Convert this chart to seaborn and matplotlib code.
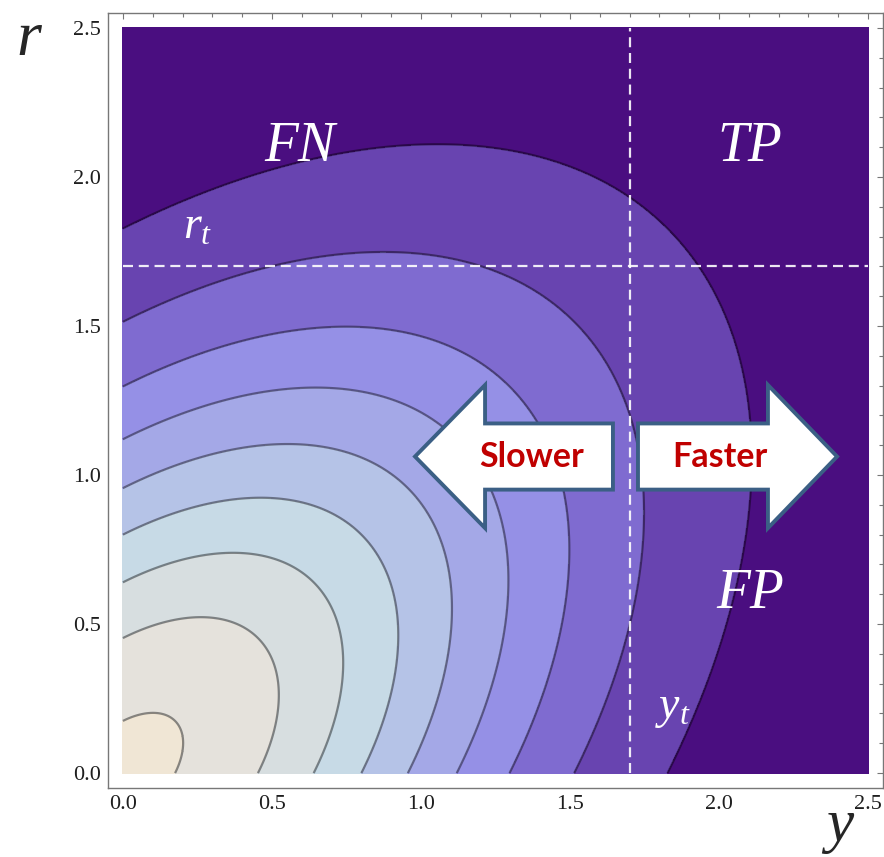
import numpy as np
import matplotlib
matplotlib.use("Agg")
import matplotlib.pyplot as plt
from matplotlib.patches import FancyArrow
from matplotlib.ticker import MultipleLocator, FormatStrFormatter
import seaborn as sns

# Axis intercepts of the nine contour levels (same on both axes), innermost first
contour_intercepts = [0.175, 0.453, 0.640, 0.800, 0.956, 1.120, 1.297, 1.514, 1.827]
# Correlation between y and r that sets the tilt of the contours
rho = 0.5
# Band fill colours, from the peak outwards
band_colors = ["#F0E6D5", "#E5E2DC", "#D7DEE0", "#C7DAE6", "#B5C3E7",
               "#A4A8E7", "#9590E6", "#7F6BD0", "#6844B0", "#4A0E80"]
# Decision thresholds
y_t = 1.7
r_t = 1.7
# Region labels and their anchor points (y, r)
region_labels = ["FN", "TP", "FP"]
region_pos = [(0.594, 2.10), (2.104, 2.10), (2.104, 0.60)]
tick_values = [0.0, 0.5, 1.0, 1.5, 2.0, 2.5]

sns.set_theme(style="white")
plt.rcParams["font.family"] = ["Liberation Serif", "DejaVu Serif"]
plt.rcParams["mathtext.fontset"] = "custom"
plt.rcParams["mathtext.rm"] = "Liberation Serif"
plt.rcParams["mathtext.it"] = "Liberation Serif:italic"

W, H = 884, 857
fig = plt.figure(figsize=(W / 100, H / 100), dpi=100)
ax = fig.add_axes([108 / W, (H - 788) / H, (883 - 108) / W, (788 - 13) / H])

# Quadratic form of a correlated bivariate normal; contours at the squared intercepts
ys = np.linspace(0, 2.5, 601)
rs = np.linspace(0, 2.5, 601)
Y, R = np.meshgrid(ys, rs)
Q = Y ** 2 - 2 * rho * Y * R + R ** 2
levels = [d ** 2 for d in contour_intercepts]
palette = sns.color_palette(band_colors)
ax.contourf(Y, R, Q, levels=[-1.0] + levels + [Q.max() + 1.0], colors=palette)
ax.contour(Y, R, Q, levels=levels, colors="black", linewidths=1.6, alpha=0.42)

# Threshold lines
dash = (0, (4.5, 2.6))
ax.plot([y_t, y_t], [0, 2.5], color="white", lw=1.6, ls=dash, alpha=0.9)
ax.plot([0, 2.5], [r_t, r_t], color="white", lw=1.6, ls=dash, alpha=0.9)

# Region labels
for lab, (px, py) in zip(region_labels, region_pos):
    ax.text(px, py, lab, color="white", fontsize=40, style="italic",
            ha="center", va="center")
ax.text(0.25, 1.83, r"$r_t$", color="white", fontsize=33, ha="center", va="center")
ax.text(1.845, 0.215, r"$y_t$", color="white", fontsize=33, ha="center", va="center")

# Direction arrows
arrow_kw = dict(width=0.222, head_width=0.48, length_includes_head=True,
                facecolor="white", edgecolor="#3B5F85", linewidth=2.8, zorder=5)
ax.add_patch(FancyArrow(1.644, 1.062, -0.664, 0, head_length=0.235, **arrow_kw))
ax.add_patch(FancyArrow(1.728, 1.062, 0.668, 0, head_length=0.232, **arrow_kw))
text_kw = dict(color="#C00000", fontsize=24.5, fontweight="bold", family=["Lato", "DejaVu Sans"],
               ha="center", va="center", zorder=6)
ax.text(1.371, 1.062, "Slower", **text_kw)
ax.text(2.003, 1.062, "Faster", **text_kw)

# Frame, ticks and limits
ax.set_xlim(-0.05, 2.55)
ax.set_ylim(-0.05, 2.55)
ax.set_xticks(tick_values)
ax.set_yticks(tick_values)
ax.xaxis.set_major_formatter(FormatStrFormatter("%.1f"))
ax.yaxis.set_major_formatter(FormatStrFormatter("%.1f"))
ax.xaxis.set_minor_locator(MultipleLocator(0.1))
ax.yaxis.set_minor_locator(MultipleLocator(0.1))
ax.tick_params(which="both", direction="in", top=True, right=True, color="#777777", width=0.8)
ax.tick_params(which="major", length=4.5, labelsize=16, labelcolor="#1E1E1E", pad=5)
ax.tick_params(which="minor", length=3)
for sp in ax.spines.values():
    sp.set_color("#777777")
    sp.set_linewidth(1.0)
ax.set_facecolor("white")

# Axis names
fig.text(29 / W, 1 - 40 / H, "r", fontsize=46, style="italic", ha="center", va="center")
fig.text(840 / W, 1 - 826 / H, "y", fontsize=44, style="italic", ha="center", va="center")

fig.savefig("out.png", dpi=100, facecolor="white")
